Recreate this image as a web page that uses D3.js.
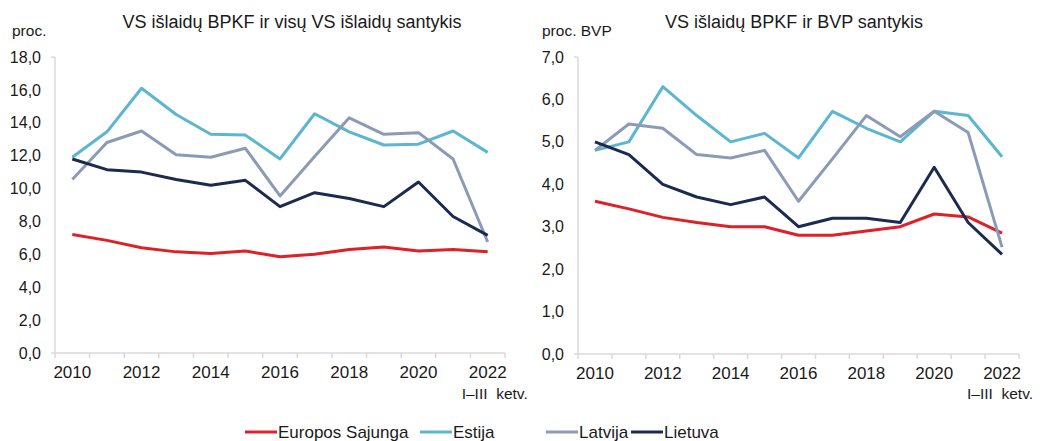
<!DOCTYPE html>
<html>
<head>
<meta charset="utf-8">
<script src="https://cdn.jsdelivr.net/npm/d3@7"></script>
<style>
  body { margin: 0; background: #ffffff; }
  svg { display: block; font-family: "Liberation Sans", Arial, sans-serif; }
</style>
</head>
<body>
<div id="chart"></div>
<script>
// data
const years = [2010, 2011, 2012, 2013, 2014, 2015, 2016, 2017, 2018, 2019, 2020, 2021, 2022];

// left panel: share of defence spending in total spending, %
const euShare = [7.2, 6.85, 6.4, 6.15, 6.05, 6.2, 5.85, 6.0, 6.3, 6.45, 6.2, 6.3, 6.15];
const eeShare = [11.9, 13.45, 16.1, 14.5, 13.3, 13.25, 11.8, 14.55, 13.45, 12.65, 12.7, 13.5, 12.2];
const lvShare = [10.55, 12.8, 13.5, 12.05, 11.9, 12.45, 9.55, 11.95, 14.3, 13.3, 13.4, 11.8, 6.75];
const ltShare = [11.8, 11.15, 11.0, 10.55, 10.2, 10.5, 8.9, 9.75, 9.4, 8.9, 10.4, 8.3, 7.15];

// right panel: defence spending, % of GDP
const euGdp = [3.6, 3.42, 3.22, 3.1, 3.0, 3.0, 2.8, 2.8, 2.9, 3.0, 3.3, 3.23, 2.85];
const eeGdp = [4.8, 5.0, 6.3, 5.62, 5.0, 5.2, 4.62, 5.72, 5.32, 5.0, 5.72, 5.62, 4.65];
const lvGdp = [4.8, 5.42, 5.32, 4.7, 4.62, 4.8, 3.6, 4.6, 5.62, 5.12, 5.72, 5.22, 2.52];
const ltGdp = [5.0, 4.7, 4.0, 3.7, 3.52, 3.7, 3.0, 3.2, 3.2, 3.1, 4.4, 3.1, 2.35];

const shareTicks = [0, 2, 4, 6, 8, 10, 12, 14, 16, 18];
const gdpTicks = [0, 1, 2, 3, 4, 5, 6, 7];
const yearLabels = [2010, 2012, 2014, 2016, 2018, 2020, 2022];

const seriesNames = ["Europos Sajunga", "Estija", "Latvija", "Lietuva"];
const seriesColors = ["#dc2128", "#5cb5d1", "#8b9bb5", "#1b2a4f"];

const width = 1042, height = 441;
const axisColor = "#dcd8da";
const fmt = d => d3.format(".1f")(d).replace(".", ",");

const svg = d3.select("#chart").append("svg")
    .attr("width", width)
    .attr("height", height);

function drawPanel(cfg) {
    const g = svg.append("g");

    const x = d3.scaleBand().domain(years).range([cfg.left, cfg.right]);
    const y = d3.scaleLinear().domain([0, cfg.max]).range([cfg.bottom, cfg.top]);

    // title + unit
    g.append("text")
        .attr("x", cfg.titleX).attr("y", 28)
        .attr("text-anchor", "middle")
        .attr("font-size", 18)
        .attr("fill", "#1a1a1a")
        .text(cfg.title);

    g.append("text")
        .attr("x", cfg.unitX).attr("y", 36)
        .attr("font-size", 15.5)
        .attr("fill", "#1a1a1a")
        .text(cfg.unit);

    // y axis (labels only, line drawn by hand below)
    const yAxis = g.append("g")
        .attr("transform", `translate(${cfg.left},0)`)
        .call(d3.axisLeft(y).tickValues(cfg.ticks).tickFormat(fmt).tickSize(0).tickPadding(14));
    yAxis.select(".domain").remove();
    yAxis.selectAll("text").attr("font-size", 16).attr("fill", "#1a1a1a").attr("font-family", null);

    g.append("line")
        .attr("x1", cfg.left).attr("x2", cfg.left)
        .attr("y1", y(cfg.max)).attr("y2", y(0))
        .attr("stroke", axisColor).attr("stroke-width", 1.5);
    g.append("line")
        .attr("x1", cfg.left - 4).attr("x2", cfg.left)
        .attr("y1", y(cfg.max)).attr("y2", y(cfg.max))
        .attr("stroke", axisColor).attr("stroke-width", 1.5);

    // x axis
    const xAxis = g.append("g")
        .attr("transform", `translate(0,${cfg.bottom})`)
        .call(d3.axisBottom(x)
            .tickFormat(d => yearLabels.includes(d) ? d : "")
            .tickSize(0).tickPadding(13));
    xAxis.select(".domain").remove();
    xAxis.selectAll("text").attr("font-size", 17).attr("fill", "#1a1a1a").attr("font-family", null);

    g.append("line")
        .attr("x1", cfg.left - 4).attr("x2", cfg.right)
        .attr("y1", cfg.bottom).attr("y2", cfg.bottom)
        .attr("stroke", axisColor).attr("stroke-width", 1.5);

    g.selectAll("line.xtick")
        .data(years.concat(["end"]))
        .enter().append("line")
        .attr("class", "xtick")
        .attr("x1", d => d === "end" ? cfg.right : x(d))
        .attr("x2", d => d === "end" ? cfg.right : x(d))
        .attr("y1", cfg.bottom).attr("y2", cfg.bottom + 5)
        .attr("stroke", axisColor).attr("stroke-width", 1.5);

    g.append("text")
        .attr("x", x(2022) + x.bandwidth() / 2 + cfg.ketvShift)
        .attr("y", 399)
        .attr("font-size", 15.5)
        .attr("fill", "#1a1a1a")
        .attr("xml:space", "preserve")
        .text("I–III  ketv.");

    // lines
    const line = d3.line()
        .x((d, i) => x(years[i]) + x.bandwidth() / 2)
        .y(d => y(d));

    g.selectAll("path.series")
        .data(cfg.series)
        .enter().append("path")
        .attr("class", "series")
        .attr("d", d => line(d))
        .attr("fill", "none")
        .attr("stroke", (d, i) => seriesColors[i])
        .attr("stroke-width", 3)
        .attr("stroke-linejoin", "round");
}

drawPanel({
    left: 55, right: 505, top: 57, bottom: 353, max: 18,
    ticks: shareTicks,
    title: "VS išlaidų BPKF ir visų VS išlaidų  santykis",
    titleX: 292, unit: "proc.", unitX: 12, ketvShift: -26,
    series: [euShare, eeShare, lvShare, ltShare]
});

drawPanel({
    left: 578, right: 1019, top: 57, bottom: 354, max: 7,
    ticks: gdpTicks,
    title: "VS išlaidų BPKF ir BVP santykis",
    titleX: 794, unit: "proc. BVP", unitX: 542, ketvShift: -35,
    series: [euGdp, eeGdp, lvGdp, ltGdp]
});

// legend
const legendX = [245, 420, 546, 631];
const legend = svg.append("g").attr("transform", "translate(0,432)");
const items = legend.selectAll("g")
    .data(seriesNames)
    .enter().append("g")
    .attr("transform", (d, i) => `translate(${legendX[i]},0)`);
items.append("line")
    .attr("x1", 0).attr("x2", 32)
    .attr("stroke", (d, i) => seriesColors[i])
    .attr("stroke-width", 3);
items.append("text")
    .attr("x", 33).attr("dy", "0.35em")
    .attr("font-size", 17)
    .attr("fill", "#1a1a1a")
    .text(d => d);
</script>
</body>
</html>
